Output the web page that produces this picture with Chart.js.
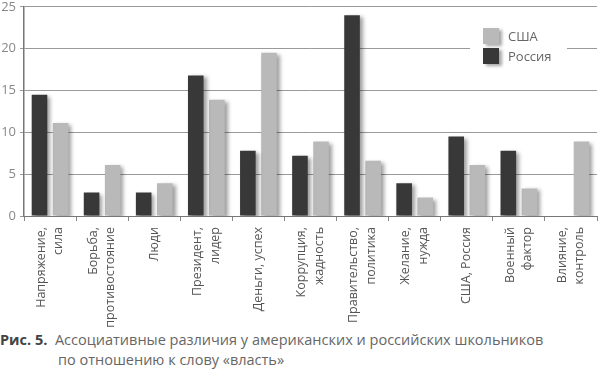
<!DOCTYPE html>
<html><head><meta charset="utf-8">
<script src="https://cdn.jsdelivr.net/npm/chart.js@4/dist/chart.umd.min.js"></script>
<style>
html,body{margin:0;padding:0;background:#fff;width:600px;height:371px;overflow:hidden;font-family:"Open Sans",sans-serif;}
#wrap{position:absolute;left:0;top:-5px;width:600px;height:334px;}
#legend{position:absolute;left:470px;top:26px;width:97px;height:40px;background:#fff;font-size:13px;color:#666;}
.row{position:absolute;left:13px;display:flex;align-items:center;height:16px;}
.sw{width:16px;height:16px;margin-right:9px;box-shadow:3px 2px 3px rgba(0,0,0,0.35);}
#cap{position:absolute;left:0;top:330px;font-size:14.5px;color:#666;line-height:20px;white-space:nowrap;}
#cap b{color:#444;font-weight:700;}
</style></head><body>
<div id="wrap"><canvas id="c"></canvas></div>
<div id="legend">
 <div class="row" style="top:2px"><div class="sw" style="background:#b9b9b9"></div>США</div>
 <div class="row" style="top:22px"><div class="sw" style="background:#383838"></div>Россия</div>
</div>
<div id="cap"><b>Рис. 5.</b>&nbsp; Ассоциативные различия у американских и российских школьников<br><span style="padding-left:58px">по отношению к слову «власть»</span></div>
<script>
const categories = [
  ["Напряжение,","сила"],
  ["Борьба,","противостояние"],
  ["Люди"],
  ["Президент,","лидер"],
  ["Деньги, успех"],
  ["Коррупция,","жадность"],
  ["Правительство,","политика"],
  ["Желание,","нужда"],
  ["США, Россия"],
  ["Военный","фактор"],
  ["Влияние,","контроль"]
];
const russia = [14.5, 2.8, 2.8, 16.8, 7.8, 7.2, 24.0, 3.9, 9.5, 7.8, 0];
const usa    = [11.1, 6.1, 3.9, 13.9, 19.5, 8.9, 6.6, 2.2, 6.1, 3.3, 8.9];
const yTicks = [0, 5, 10, 15, 20, 25];

const shadow = {
  id: 'shadow',
  beforeDatasetsDraw(chart){
    const ctx = chart.ctx; ctx.save();
    ctx.shadowColor = 'rgba(0,0,0,0.38)';
    ctx.shadowBlur = 4; ctx.shadowOffsetX = 3; ctx.shadowOffsetY = 2;
  },
  afterDatasetsDraw(chart){ chart.ctx.restore(); }
};

// centre multi-line rotated labels on their tick
const centreLabels = {
  id: 'centreLabels',
  beforeDraw(chart){
    const s = chart.scales.x;
    const items = s.getLabelItems(chart.chartArea);
    if (items._centred) return;
    items.forEach(it => {
      const n = Array.isArray(it.label) ? it.label.length : 1;
      if (n > 1) it.options.translation[0] -= (n - 1) * it.font.lineHeight / 2;
    });
    items._centred = true;
  }
};

new Chart(document.getElementById('c'), {
  type: 'bar',
  data: {
    labels: categories,
    datasets: [
      {label: 'Россия', data: russia, backgroundColor: '#383838'},
      {label: 'США', data: usa, backgroundColor: '#b9b9b9'}
    ]
  },
  options: {
    responsive: true, maintainAspectRatio: false, animation: false,
    layout: {padding: {left: 0, right: 3, top: 0, bottom: 0}},
    datasets: {bar: {categoryPercentage: 0.81, barPercentage: 0.74}},
    plugins: {legend: {display: false}, tooltip: {enabled: false}},
    scales: {
      x: {
        grid: {display: true, drawOnChartArea: false, offset: true, tickLength: 5, color: '#888', lineWidth: 1},
        border: {color: '#777', width: 1},
        ticks: {minRotation: 90, maxRotation: 90, autoSkip: false, color: '#555', padding: 6,
                font: {family: 'Open Sans', size: 12.5, lineHeight: 1.4}},
        afterFit(s){ s.height = 113; s.paddingRight = 0; s.paddingLeft = 0; }
      },
      y: {
        min: 0, max: 25,
        afterBuildTicks(s){ s.ticks = yTicks.map(v => ({value: v})); },
        grid: {color: '#9a9a9a', lineWidth: 1, tickLength: 4, drawTicks: true},
        border: {color: '#777', width: 1.5},
        ticks: {color: '#888', padding: 4, font: {family: 'Open Sans', size: 13}},
        afterFit(s){ s.width = 24; }
      }
    }
  },
  plugins: [shadow, centreLabels]
});
</script>
</body></html>
